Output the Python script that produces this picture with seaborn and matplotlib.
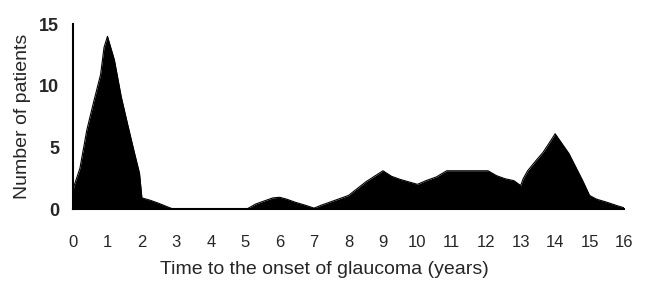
import numpy as np
import pandas as pd
import matplotlib
matplotlib.use("Agg")
import matplotlib.pyplot as plt
import seaborn as sns

# Number of patients vs. time to onset
years = [0, 0.02, 0.2, 0.4, 0.6, 0.8, 0.9, 1.0, 1.2, 1.4, 1.6, 1.78, 1.93, 2.0,
         2.25, 2.5, 2.72, 2.9, 5.05, 5.3, 5.6, 5.8, 6.0, 6.2, 6.45, 6.75,
         7.0, 7.2, 7.45, 7.75, 8.0, 8.25, 8.5, 8.75, 9.0, 9.25, 9.5, 10.0,
         10.25, 10.55, 10.85, 12.05, 12.3, 12.55, 12.8, 13.0, 13.07, 13.2,
         13.45, 13.65, 13.85, 14.0, 14.2, 14.4, 14.6, 14.8, 15.0, 15.2,
         15.5, 15.8, 16.0]
patients = [1.0, 1.8, 3.3, 6.4, 8.7, 10.9, 13.1, 14.0, 12.1, 9.1, 6.7, 4.6, 2.9,
            0.9, 0.7, 0.45, 0.2, 0.0, 0.0, 0.4, 0.7, 0.9, 0.95, 0.8, 0.55,
            0.3, 0.07, 0.3, 0.55, 0.85, 1.1, 1.65, 2.2, 2.65, 3.1, 2.65, 2.4,
            2.0, 2.3, 2.6, 3.1, 3.1, 2.7, 2.45, 2.3, 1.9, 2.45, 3.1, 3.95,
            4.6, 5.45, 6.1, 5.3, 4.5, 3.4, 2.3, 1.1, 0.8, 0.55, 0.27, 0.1]
xticks = list(range(0, 17))
yticks = [0, 5, 10, 15]

df = pd.DataFrame({"years": years, "patients": patients})

sns.set_style("white")
plt.rcParams['font.family'] = ['Liberation Sans', 'DejaVu Sans']

fig = plt.figure(figsize=(6.48, 2.95), dpi=100)
ax = fig.add_axes([0.1127, 0.2915, 0.8503, 0.6271])

sns.lineplot(data=df, x="years", y="patients", color="black", linewidth=0.8, ax=ax)
ax.fill_between(df["years"], df["patients"], 0, color="black", linewidth=0)

ax.set_xlim(0, 16)
ax.set_ylim(0, 15)
ax.set_xticks(xticks)
ax.set_xticklabels([str(t) for t in xticks], fontsize=12)
ax.set_yticks(yticks)
ax.set_yticklabels([str(t) for t in yticks], fontsize=13, fontweight="bold")
ax.tick_params(direction="out", length=5, width=1.5, color="black")
ax.tick_params(axis="x", pad=14)
ax.tick_params(axis="y", pad=5)

sns.despine(ax=ax)
for s in ["left", "bottom"]:
    ax.spines[s].set_color("black")
    ax.spines[s].set_linewidth(1.5)

ax.set_xlabel("Time to the onset of glaucoma (years)", fontsize=14)
ax.xaxis.set_label_coords(0.457, -0.28)
ax.set_ylabel("Number of patients", fontsize=14, labelpad=6)

fig.savefig("out.png", dpi=100)
